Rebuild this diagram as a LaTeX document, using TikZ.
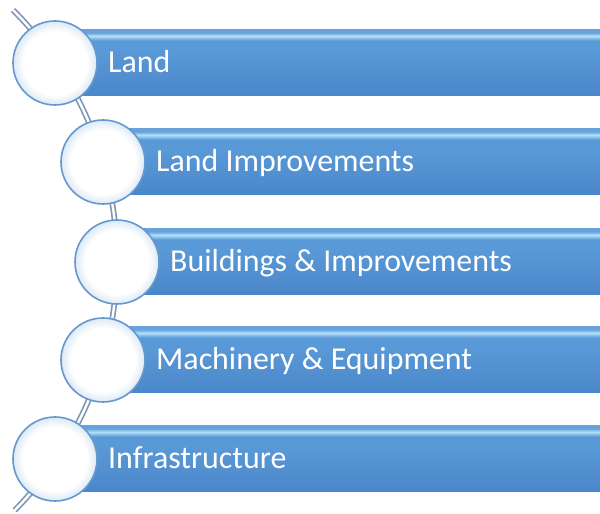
\documentclass[tikz,border=0pt]{standalone}
\usepackage{fontspec}
\setmainfont{Carlito}
\definecolor{bB}{HTML}{4A87CA}
\definecolor{bM}{HTML}{5A99D7}
\definecolor{bH}{HTML}{B2E0FA}
\definecolor{bT}{HTML}{68A2DA}
\definecolor{cRim}{HTML}{DCE9F5}
\definecolor{cEdge}{HTML}{6598CF}
\definecolor{lineC}{HTML}{7F97B4}
\pgfdeclareverticalshading{barshade}{100bp}{color(0bp)=(bB); color(25bp)=(bB); color(60bp)=(bM); color(67bp)=(bM); color(70.5bp)=(bH); color(73bp)=(bT); color(75bp)=(bT); color(100bp)=(bT)}
\pgfdeclareradialshading{circshade}{\pgfpoint{0bp}{0bp}}{color(0bp)=(white); color(19bp)=(white); color(25bp)=(cRim); color(50bp)=(cRim)}
\tikzset{
  bar/.style={rectangle, shading=barshade, minimum height=66pt, inner sep=0pt, anchor=west, draw=none},
  disc/.style={circle, shading=circshade, draw=cEdge, line width=1.6pt, minimum size=84pt, inner sep=0pt},
  lbl/.style={text=white, font=\fontsize{31.9}{38}\selectfont, anchor=base west, inner sep=0pt},
  rail/.style={draw=lineC, line width=1.7pt, double=white, double distance=2.4pt}
}
\begin{document}
\begin{tikzpicture}[x=1pt,y=1pt]
\useasboundingbox (0,0) rectangle (600,514);
% curved rail
\coordinate (railTop) at (13,504);
\draw[rail] (railTop) arc[start angle=45, end angle=-44.6, radius=355] coordinate (railEnd);
% bars
\node[bar, minimum width=545pt] (b1) at (55,451) {};
\node[bar, minimum width=497pt] (b2) at (103,352) {};
\node[bar, minimum width=483pt] (b3) at (117,252) {};
\node[bar, minimum width=497pt] (b4) at (103,154) {};
\node[bar, minimum width=545pt] (b5) at (55,55) {};
% circles
\node[disc] (c1) at (55,451) {};
\node[disc] (c2) at (103,352) {};
\node[disc] (c3) at (117,252) {};
\node[disc] (c4) at (103,154) {};
\node[disc] (c5) at (55,55) {};
% texts
\node[lbl] (t1) at (108,441) {Land};
\node[lbl] (t2) at (156,342) {Land Improvements};
\node[lbl] (t3) at (170,242) {Buildings \& Improvements};
\node[lbl] (t4) at (156,144) {Machinery \& Equipment};
\node[lbl] (t5) at (108,45) {Infrastructure};
\end{tikzpicture}
\end{document}
